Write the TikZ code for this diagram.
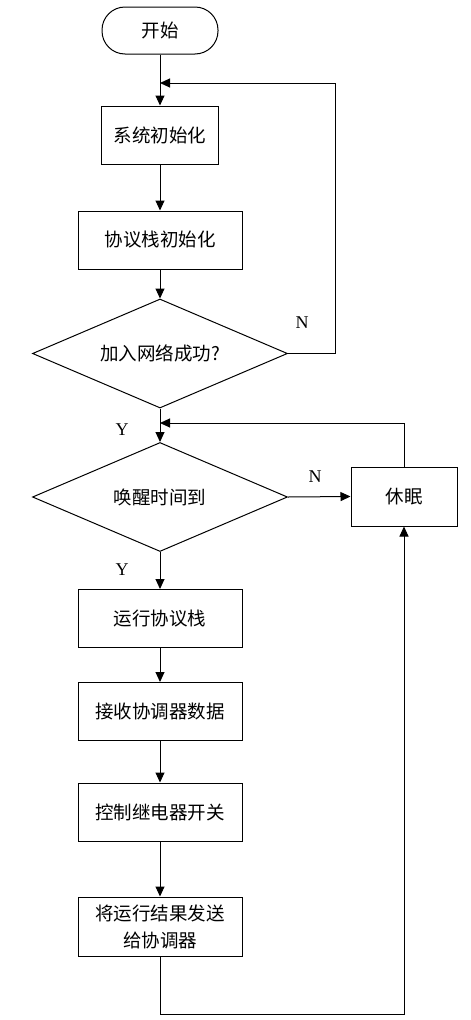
\documentclass[tikz,border=0pt]{standalone}
\usepackage{fontspec}
\setmainfont{Liberation Serif}
\newfontfamily\cjk{Noto Sans CJK SC}
\usetikzlibrary{shapes.geometric,arrows.meta}
\tikzset{
  every node/.style={font=\cjk\fontsize{18.5}{27}\selectfont},
  boxnode/.style={draw, line width=1pt, minimum height=58pt, inner sep=2pt, align=center},
  termnode/.style={draw, line width=1pt, rounded corners=23pt, minimum width=116pt, minimum height=47pt},
  decnode/.style={draw, diamond, shape aspect=2.34, line width=1pt, inner sep=0pt, minimum width=255pt, minimum height=109pt},
  lab/.style={font=\rmfamily\fontsize{18}{20}\selectfont},
  conn/.style={line width=1pt, -{Triangle[length=10pt,width=9pt]}},
  plain/.style={line width=1pt}
}
\begin{document}
\begin{tikzpicture}[x=1pt,y=-1pt]
\useasboundingbox (0,0) rectangle (471,1020);
\node[termnode] (start) at (160,30.5) {开始};
\node[boxnode, minimum width=117pt] (b1) at (160,135) {系统初始化};
\node[boxnode, minimum width=164pt] (b2) at (160,240) {协议栈初始化};
\node[decnode] (d1) at (160,353.5) {加入网络成功?};
\node[decnode] (d2) at (160,497) {唤醒时间到};
\node[boxnode, minimum width=106pt, minimum height=59pt] (sleep) at (404,496.5) {休眠};
\node[boxnode, minimum width=164pt] (b3) at (160,618.5) {运行协议栈};
\node[boxnode, minimum width=164pt] (b4) at (160,711.5) {接收协调器数据};
\node[boxnode, minimum width=164pt] (b5) at (160,812) {控制继电器开关};
\node[boxnode, minimum width=164pt, minimum height=59pt] (b6) at (160,926.5) {将运行结果发送\\给协调器};
\coordinate (j1) at (160,83);
\coordinate (j2) at (160,423);
\coordinate (c1) at (335,353.5);
\coordinate (c2) at (335,83);
\coordinate (c3) at (404,423);
\coordinate (c4) at (160,1014);
\coordinate (c5) at (404,1014);
\node[lab] (n1) at (302,323) {N};
\node[lab] (y1) at (122,430) {Y};
\node[lab] (n2) at (315,477) {N};
\node[lab] (y2) at (122,570) {Y};
\draw[conn] (start) -- (b1);
\draw[conn] (b1) -- (b2);
\draw[conn] (b2) -- (d1.north);
\draw[conn] (d1.east) -- (c1) -- (c2) -- (j1);
\draw[conn] (d1.south) -- (d2.north);
\draw[conn] (sleep.north) -- (c3) -- (j2);
\draw[conn] (d2.east) -- (sleep.west);
\draw[conn] (d2.south) -- (b3.north);
\draw[conn] (b3) -- (b4);
\draw[conn] (b4) -- (b5);
\draw[conn] (b5) -- (b6);
\draw[conn] (b6.south) -- (c4) -- (c5) -- (sleep.south);
\end{tikzpicture}
\end{document}
